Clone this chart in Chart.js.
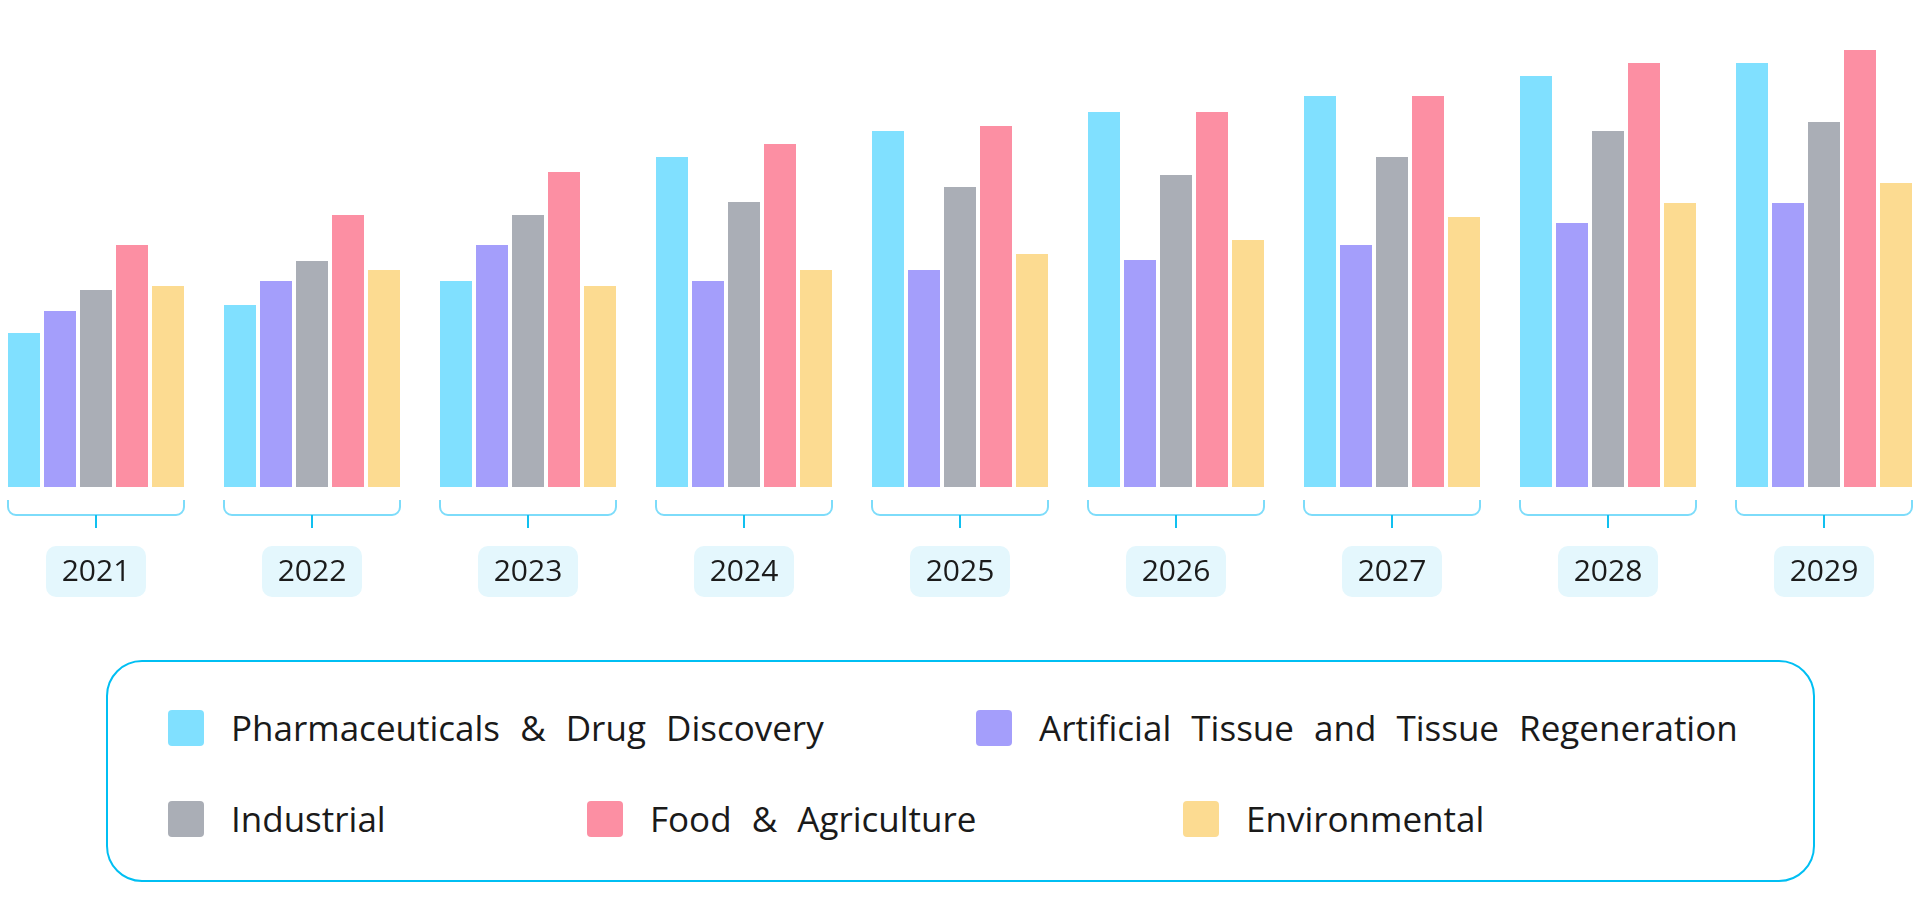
<!DOCTYPE html>
<html>
<head>
<meta charset="utf-8">
<script src="https://cdn.jsdelivr.net/npm/chart.js@4.4.1/dist/chart.umd.min.js"></script>
<style>
    html, body {
        margin: 0;
        padding: 0;
        background: #ffffff;
        width: 1920px;
        height: 922px;
        overflow: hidden;
        font-family: "Open Sans", sans-serif;
    }
    #chartWrap {
        position: absolute;
        left: -12px;
        top: 0;
        width: 1944px;
        height: 622px;
    }
    #legendBox {
        position: absolute;
        left: 106px;
        top: 660px;
        width: 1709px;
        height: 222px;
        box-sizing: border-box;
        border: 2px solid #00bff3;
        border-radius: 36px;
    }
    .legend-item {
        position: absolute;
        display: flex;
        align-items: center;
        height: 36px;
    }
    .legend-swatch {
        width: 36px;
        height: 36px;
        border-radius: 4px;
    }
    .legend-text {
        margin-left: 27px;
        font-size: 35px;
        color: #1a1a1a;
        white-space: nowrap;
        line-height: 36px;
        word-spacing: 11px;
    }
</style>
</head>
<body>
<div id="chartWrap"><canvas id="Mercado"></canvas></div>
<div id="legendBox"></div>

<script>
// Datos
const years = ['2021', '2022', '2023', '2024', '2025', '2026', '2027', '2028', '2029'];
const seriesNames = [
    'Pharmaceuticals & Drug Discovery',
    'Artificial Tissue and Tissue Regeneration',
    'Industrial',
    'Food & Agriculture',
    'Environmental'
];
const pharma = [154, 182, 206, 330, 356, 375, 391, 411, 424];
const tissue = [176, 206, 242, 206, 217, 227, 242, 264, 284];
const industrial = [197, 226, 272, 285, 300, 312, 330, 356, 365];
const food = [242, 272, 315, 343, 361, 375, 391, 424, 437];
const environmental = [201, 217, 201, 217, 233, 247, 270, 284, 304];

const colores = ['#80e0ff', '#a49efb', '#aaaeb6', '#fc8fa3', '#fcdb91'];

// Corchetes y etiquetas de año debajo de cada grupo
const bracketPlugin = {
    id: 'bracketPlugin',
    afterDatasetsDraw(chart) {
        const ctx = chart.ctx;
        const first = chart.getDatasetMeta(0).data;
        const last = chart.getDatasetMeta(chart.data.datasets.length - 1).data;
        const xScale = chart.scales.x;
        const yTop = 500, yLine = 515, yTick = 528, r = 8;

        years.forEach((year, i) => {
            const left = first[i].x - first[i].width / 2;
            const right = last[i].x + last[i].width / 2;
            const cx = xScale.getPixelForValue(i);

            ctx.save();
            ctx.strokeStyle = '#7ddcfa';
            ctx.lineWidth = 2;
            ctx.beginPath();
            ctx.moveTo(left, yTop);
            ctx.arcTo(left, yLine, left + r, yLine, r);
            ctx.arcTo(right, yLine, right, yTop, r);
            ctx.lineTo(right, yTop);
            ctx.stroke();

            ctx.strokeStyle = '#10c0f0';
            ctx.beginPath();
            ctx.moveTo(cx, yLine);
            ctx.lineTo(cx, yTick);
            ctx.stroke();

            // pastilla del año
            ctx.fillStyle = '#e4f7fd';
            ctx.beginPath();
            ctx.roundRect(cx - 50, 546, 100, 51, 10);
            ctx.fill();

            ctx.fillStyle = '#1b1b1b';
            ctx.font = '30px "Open Sans", sans-serif';
            ctx.textAlign = 'center';
            ctx.textBaseline = 'middle';
            ctx.fillText(year, cx, 572);
            ctx.restore();
        });
    }
};

const ctx1 = document.getElementById('Mercado').getContext('2d');
const myChart1 = new Chart(ctx1, {
    type: 'bar',
    data: {
        labels: years,
        datasets: [pharma, tissue, industrial, food, environmental].map((serie, k) => ({
            label: seriesNames[k],
            data: serie,
            backgroundColor: colores[k],
            borderWidth: 0,
            categoryPercentage: 180 / 216,
            barPercentage: 32 / 36
        }))
    },
    options: {
        responsive: true,
        maintainAspectRatio: false,
        animation: false,
        layout: {
            padding: { top: 0, left: 0, right: 0, bottom: 135 }
        },
        plugins: {
            legend: { display: false },
            tooltip: { enabled: false }
        },
        scales: {
            x: { display: false },
            y: { display: false, min: 0, max: 487 }
        }
    },
    plugins: [bracketPlugin]
});

// Leyenda HTML
const legendBox = document.getElementById('legendBox');
const legendSlots = [
    { left: 60, top: 48 },
    { left: 868, top: 48 },
    { left: 60, top: 139 },
    { left: 479, top: 139 },
    { left: 1075, top: 139 }
];
seriesNames.forEach((name, k) => {
    const item = document.createElement('div');
    item.className = 'legend-item';
    item.style.left = legendSlots[k].left + 'px';
    item.style.top = legendSlots[k].top + 'px';
    const sw = document.createElement('div');
    sw.className = 'legend-swatch';
    sw.style.background = colores[k];
    const tx = document.createElement('span');
    tx.className = 'legend-text';
    tx.textContent = name;
    item.appendChild(sw);
    item.appendChild(tx);
    legendBox.appendChild(item);
});
</script>
</body>
</html>
